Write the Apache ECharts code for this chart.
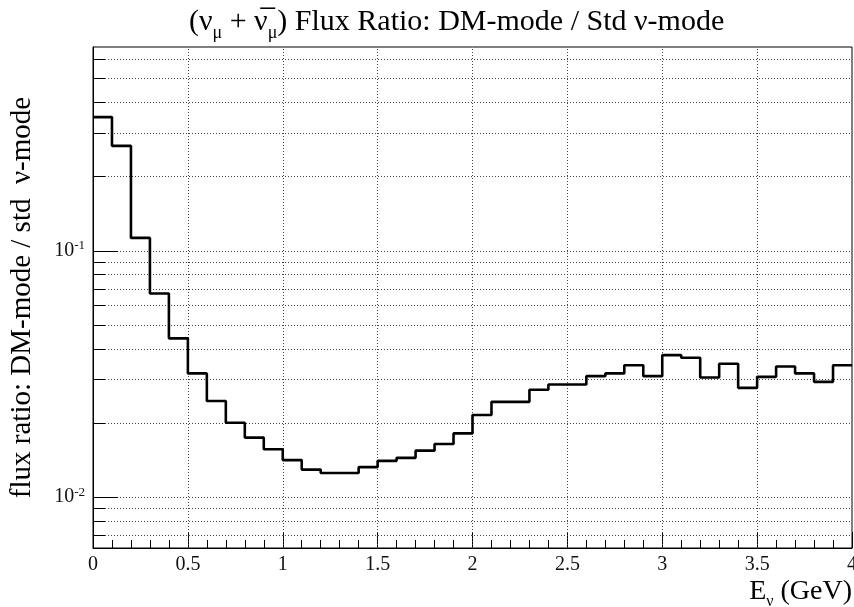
<!DOCTYPE html>
<html>
<head>
<meta charset="utf-8">
<script src="https://cdn.jsdelivr.net/npm/echarts@6/dist/echarts.min.js"></script>
<style>
html,body{margin:0;padding:0;background:#fff;}
#chart{width:854px;height:607px;}
</style>
</head>
<body>
<div id="chart"></div>
<script>
// Bin edges (GeV), 0.1 GeV bins from 0 to 4
var binEdges = [0.0,0.1,0.2,0.3,0.4,0.5,0.6,0.7,0.8,0.9,1.0,1.1,1.2,1.3,1.4,1.5,1.6,1.7,1.8,1.9,
                2.0,2.1,2.2,2.3,2.4,2.5,2.6,2.7,2.8,2.9,3.0,3.1,3.2,3.3,3.4,3.5,3.6,3.7,3.8,3.9,4.0];
// Flux ratio per bin (DM-mode / std nu-mode)
var fluxRatio = [0.348,0.266,0.1125,0.0669,0.0440,0.0317,0.0245,0.0200,0.0174,0.0156,
                 0.0141,0.0129,0.0125,0.0125,0.0132,0.0140,0.0144,0.0154,0.0164,0.0181,
                 0.0215,0.0243,0.0243,0.0272,0.0286,0.0286,0.0309,0.0317,0.0342,0.0309,
                 0.0376,0.0367,0.0305,0.0347,0.0277,0.0307,0.0338,0.0317,0.0293,0.0342];
// Log-axis grid lines / ticks
var yGridValues = [0.007,0.008,0.009,0.01,0.02,0.03,0.04,0.05,0.06,0.07,0.08,0.09,0.1,0.2,0.3,0.4,0.5,0.6];
var yMajorValues = [0.01,0.1];
var xGridValues = [0.5,1.0,1.5,2.0,2.5,3.0,3.5];
var xTickInterval = 0.5;
var xMin = 0, xMax = 4;
var yMin = 0.0062, yMax = 0.67;

var serif = "'Liberation Serif','DejaVu Serif',serif";

var histData = [];
for (var i = 0; i < fluxRatio.length; i++) histData.push([binEdges[i], fluxRatio[i]]);
histData.push([binEdges[fluxRatio.length], fluxRatio[fluxRatio.length - 1]]);

var chart = echarts.init(document.getElementById('chart'), null, {renderer: 'canvas'});
var option = {
  animation: false,
  backgroundColor: '#fff',
  title: {
    text: '{m|(ν}{s|μ}{m| + ν\u0305}{s|μ}{m|) Flux Ratio: DM-mode / Std ν-mode}',
    left: 184,
    top: -3,
    textStyle: {
      fontWeight: 'normal',
      rich: {
        m: {fontFamily: serif, fontSize: 30, fontWeight: 'normal', color: '#000', lineHeight: 32},
        s: {fontFamily: serif, fontSize: 18, fontWeight: 'normal', color: '#000', verticalAlign: 'bottom', lineHeight: 40}
      }
    }
  },
  grid: {left: 93, right: 2, top: 47, bottom: 59, show: true, borderColor: '#000', borderWidth: 1, containLabel: false, outerBoundsMode: 'none'},
  xAxis: {
    type: 'value',
    min: xMin, max: xMax, interval: xTickInterval,
    name: '{e|E}{s|ν}{e| (GeV)}',
    nameLocation: 'end',
    nameGap: 0,
    nameTextStyle: {
      align: 'right', verticalAlign: 'top', padding: [26, 0, 0, 0],
      rich: {
        e: {fontFamily: serif, fontSize: 28, color: '#000', lineHeight: 30},
        s: {fontFamily: serif, fontSize: 16, color: '#000', verticalAlign: 'bottom', lineHeight: 36}
      }
    },
    axisLine: {show: true, lineStyle: {color: '#000', width: 1}},
    axisTick: {show: true, inside: true, length: 16, lineStyle: {color: '#000', width: 1}},
    minorTick: {show: true, splitNumber: 5, length: 8, lineStyle: {color: '#000', width: 1}},
    axisLabel: {show: true, fontFamily: serif, fontSize: 20, color: '#111', margin: 7},
    splitLine: {show: false}
  },
  yAxis: {
    type: 'log',
    logBase: 10,
    min: yMin, max: yMax,
    name: 'flux ratio: DM-mode / std  ν-mode',
    nameLocation: 'middle',
    nameGap: 56,
    nameTextStyle: {fontFamily: serif, fontSize: 29, color: '#000'},
    axisLine: {show: true, lineStyle: {color: '#000', width: 1}},
    axisTick: {show: false},
    splitLine: {show: false},
    axisLabel: {
      show: true, margin: 8,
      formatter: function (v) {
        var l = Math.log10(v);
        var e = Math.round(l);
        if (Math.abs(l - e) < 1e-6 && yMajorValues.some(function (m) { return Math.abs(Math.log10(m) - e) < 1e-6; })) {
          return '{b|10}{p|' + e + '}';
        }
        return '';
      },
      rich: {
        b: {fontFamily: serif, fontSize: 20, color: '#111', lineHeight: 22},
        p: {fontFamily: serif, fontSize: 13, color: '#111', verticalAlign: 'top', lineHeight: 14}
      }
    }
  },
  series: [
    {
      type: 'custom',
      silent: true,
      z: 1,
      clip: false,
      data: yGridValues.map(function (v) { return [xMin, v]; }),
      encode: {x: 0, y: 1},
      renderItem: function (params, api) {
        var v = api.value(1);
        var cs = params.coordSys;
        var y = Math.round(api.coord([xMin, v])[1]) + 0.5;
        var major = yMajorValues.some(function (m) { return Math.abs(m - v) < 1e-9; });
        return {
          type: 'group',
          children: [
            {type: 'line', shape: {x1: cs.x, y1: y, x2: cs.x + cs.width, y2: y},
             style: {stroke: '#444', lineWidth: 1, lineDash: [1, 2]}},
            {type: 'line', shape: {x1: cs.x, y1: y, x2: cs.x + (major ? 25 : 12), y2: y},
             style: {stroke: '#000', lineWidth: 1}}
          ]
        };
      }
    },
    {
      type: 'line',
      step: 'end',
      data: histData,
      showSymbol: false,
      symbol: 'none',
      z: 5,
      lineStyle: {color: '#000', width: 2.6},
      silent: true,
      markLine: {
        silent: true,
        symbol: ['none', 'none'],
        label: {show: false},
        z: 1,
        lineStyle: {color: '#444', width: 1, type: [1, 2]},
        emphasis: {disabled: true},
        data: xGridValues.map(function (v) { return {xAxis: v}; })
      }
    }
  ]
};
chart.setOption(option);
</script>
</body>
</html>
